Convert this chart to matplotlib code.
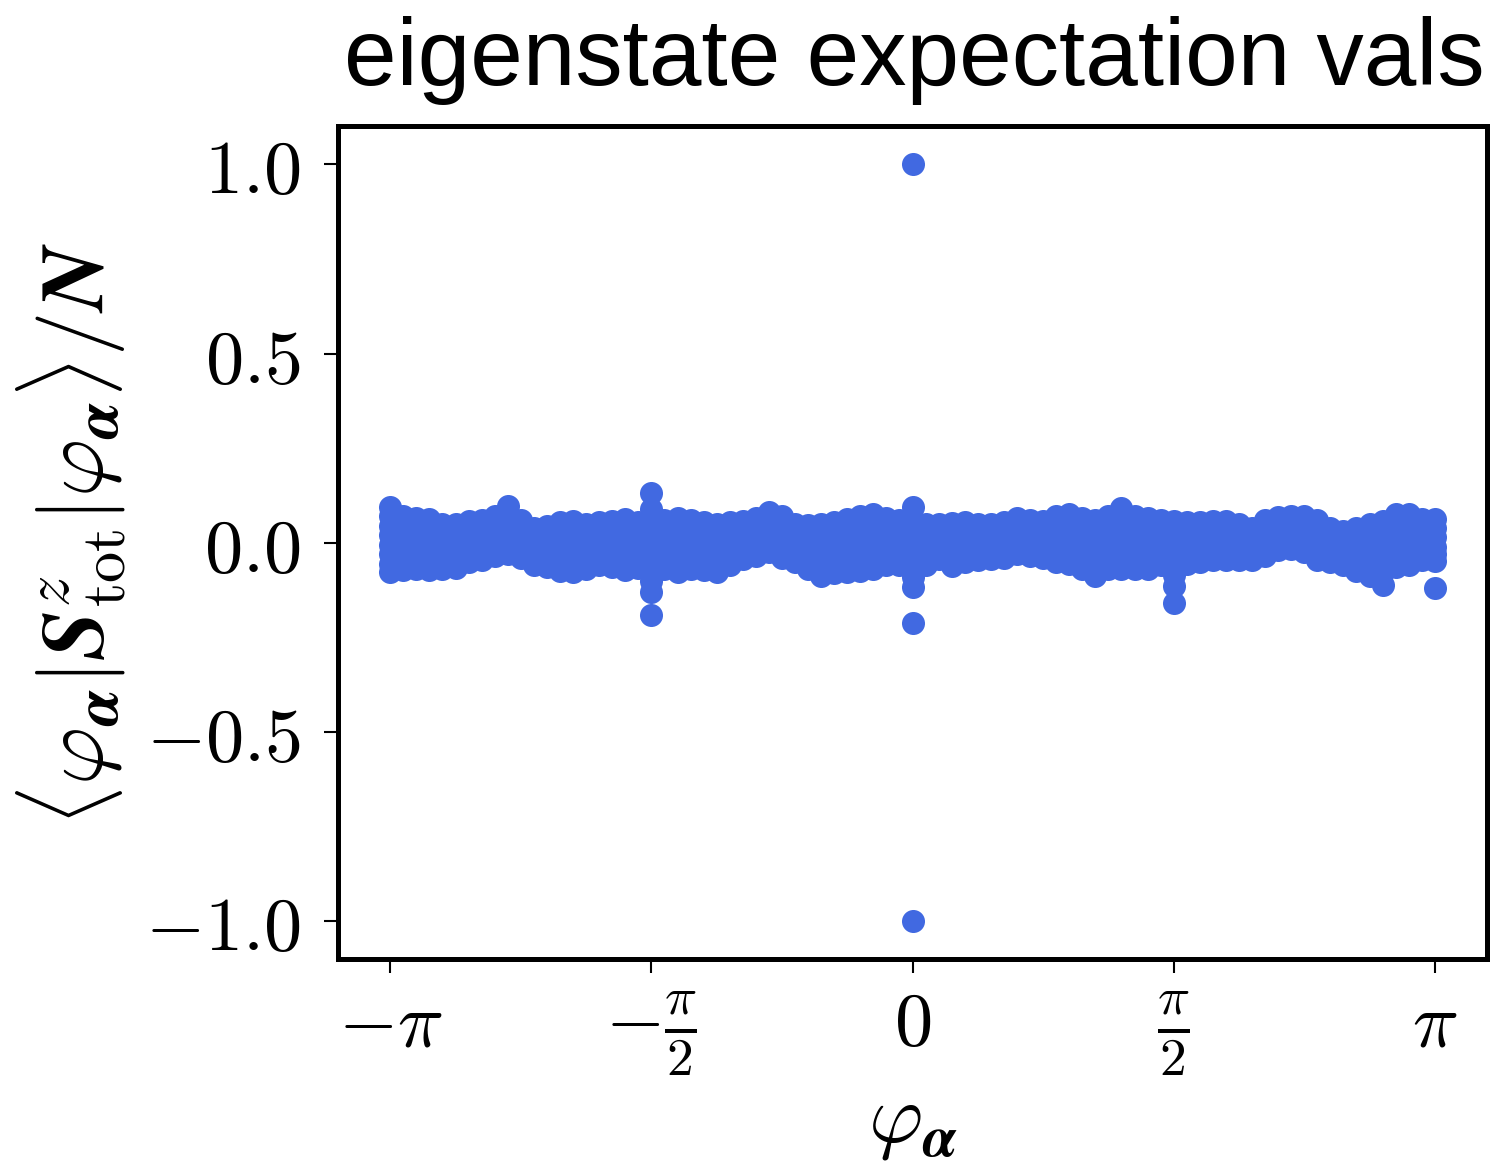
import numpy as np
import matplotlib
matplotlib.use("Agg")
import matplotlib.pyplot as plt
from matplotlib.mathtext import MathTextParser

plt.rcParams["mathtext.fontset"] = "cm"
plt.rcParams["font.family"] = ["DejaVu Serif"]

# Eigenphases (in units of pi) and the per-column expectation values <S^z_tot>/N
band_phi = [
    -1.000, -0.975, -0.950, -0.925, -0.900, -0.875, -0.850, -0.825, -0.800, -0.775,
    -0.750, -0.725, -0.700, -0.675, -0.650, -0.625, -0.600, -0.575, -0.550, -0.525,
    -0.500, -0.475, -0.450, -0.425, -0.400, -0.375, -0.350, -0.325, -0.300, -0.275,
    -0.250, -0.225, -0.200, -0.175, -0.150, -0.125, -0.100, -0.075, -0.050, -0.025,
    0.000, 0.025, 0.050, 0.075, 0.100, 0.125, 0.150, 0.175, 0.200, 0.225,
    0.250, 0.275, 0.300, 0.325, 0.350, 0.375, 0.400, 0.425, 0.450, 0.475,
    0.500, 0.525, 0.550, 0.575, 0.600, 0.625, 0.650, 0.675, 0.700, 0.725,
    0.750, 0.775, 0.800, 0.825, 0.850, 0.875, 0.900, 0.925, 0.950, 0.975,
    1.000,
]

band_vals = [
    [0.095, 0.070, 0.045, 0.020, -0.005, -0.030, -0.055, -0.077],
    [0.070, 0.030, -0.010, -0.045, -0.072],
    [0.066, 0.028, -0.012, -0.042, -0.069],
    [0.062, 0.025, -0.015, -0.048, -0.072],
    [0.050, 0.012, -0.025, -0.069],
    [0.050, 0.015, -0.022, -0.066],
    [0.058, 0.018, -0.018, -0.050],
    [0.060, 0.022, -0.012, -0.045],
    [0.070, 0.032, -0.005, -0.035],
    [0.098, 0.060, 0.022, -0.010, -0.030],
    [0.060, 0.022, -0.012, -0.040],
    [0.040, 0.005, -0.028, -0.060],
    [0.045, 0.008, -0.030, -0.065],
    [0.055, 0.018, -0.020, -0.050, -0.075],
    [0.058, 0.020, -0.018, -0.050, -0.077],
    [0.050, 0.012, -0.025, -0.070],
    [0.055, 0.015, -0.022, -0.060],
    [0.058, 0.020, -0.020, -0.065],
    [0.062, 0.024, -0.015, -0.045, -0.072],
    [0.055, 0.016, -0.022, -0.066],
    [0.132, 0.090, 0.050, 0.010, -0.030, -0.065, -0.100, -0.130, -0.190],
    [0.060, 0.020, -0.020, -0.050, -0.070],
    [0.066, 0.028, -0.012, -0.045, -0.077],
    [0.060, 0.022, -0.018, -0.048, -0.070],
    [0.055, 0.018, -0.020, -0.050, -0.072],
    [0.050, 0.012, -0.025, -0.055, -0.077],
    [0.055, 0.018, -0.020, -0.060],
    [0.058, 0.020, -0.012, -0.042],
    [0.065, 0.028, -0.005, -0.035],
    [0.080, 0.042, 0.008, -0.025],
    [0.070, 0.032, -0.005, -0.040],
    [0.050, 0.012, -0.020, -0.050],
    [0.048, 0.010, -0.028, -0.070],
    [0.050, 0.012, -0.025, -0.058, -0.087],
    [0.055, 0.018, -0.020, -0.052, -0.080],
    [0.063, 0.025, -0.015, -0.048, -0.077],
    [0.070, 0.032, -0.008, -0.042, -0.075],
    [0.077, 0.038, 0.000, -0.035, -0.070],
    [0.065, 0.025, -0.015, -0.060],
    [0.060, 0.020, -0.020, -0.060],
    [1.000, 0.095, 0.055, 0.015, -0.025, -0.060, -0.090, -0.116, -0.212, -1.000],
    [0.050, 0.010, -0.025, -0.060],
    [0.050, 0.012, -0.015, -0.042],
    [0.052, 0.015, -0.022, -0.062],
    [0.055, 0.018, -0.015, -0.050],
    [0.050, 0.012, -0.018, -0.045],
    [0.050, 0.012, -0.015, -0.042],
    [0.055, 0.018, -0.012, -0.040],
    [0.066, 0.028, -0.002, -0.030],
    [0.060, 0.022, -0.008, -0.035],
    [0.058, 0.020, -0.010, -0.040],
    [0.070, 0.030, -0.010, -0.050],
    [0.075, 0.035, -0.005, -0.030, -0.055],
    [0.066, 0.028, -0.010, -0.045, -0.070],
    [0.060, 0.022, -0.015, -0.050, -0.087],
    [0.070, 0.030, -0.010, -0.042, -0.070],
    [0.092, 0.055, 0.018, -0.020, -0.050, -0.069],
    [0.070, 0.030, -0.010, -0.042, -0.070],
    [0.066, 0.028, -0.010, -0.045, -0.070],
    [0.060, 0.020, -0.020, -0.060],
    [0.058, 0.020, -0.018, -0.055, -0.085, -0.115, -0.160],
    [0.055, 0.016, -0.020, -0.055],
    [0.055, 0.016, -0.018, -0.050],
    [0.058, 0.020, -0.012, -0.045],
    [0.058, 0.020, -0.012, -0.045],
    [0.050, 0.012, -0.018, -0.045],
    [0.040, 0.005, -0.020, -0.045],
    [0.060, 0.022, -0.008, -0.035],
    [0.068, 0.030, 0.005, -0.020],
    [0.070, 0.032, 0.008, -0.016],
    [0.070, 0.030, 0.002, -0.024],
    [0.060, 0.022, -0.012, -0.045],
    [0.040, 0.005, -0.025, -0.050],
    [0.030, -0.005, -0.035, -0.060],
    [0.040, 0.005, -0.030, -0.075],
    [0.050, 0.012, -0.025, -0.058, -0.087],
    [0.058, 0.020, -0.018, -0.050, -0.078, -0.112],
    [0.077, 0.038, 0.000, -0.035, -0.065],
    [0.075, 0.035, -0.002, -0.035, -0.060],
    [0.063, 0.025, -0.012, -0.045],
    [0.063, 0.040, 0.015, -0.010, -0.030, -0.047, -0.120],
]

y_ticks = [-1.0, -0.5, 0.0, 0.5, 1.0]
y_ticklabels = [r"$-1.0$", r"$-0.5$", r"$0.0$", r"$0.5$", r"$1.0$"]
x_ticks_pi = [-1.0, -0.5, 0.0, 0.5, 1.0]
x_ticklabels = [r"$-\pi$", r"$-\frac{\pi}{2}$", r"$0$", r"$\frac{\pi}{2}$", r"$\pi$"]

title_text = "eigenstate expectation vals"


def mathtext_ok(s):
    try:
        MathTextParser("path").parse(s)
        return True
    except Exception:
        return False


if mathtext_ok(r"$\boldsymbol{S}$"):
    ylabel = (r"$\langle\boldsymbol{\varphi}_{\boldsymbol{\alpha}}|\boldsymbol{S}^{z}_{\rm tot}"
              r"|\boldsymbol{\varphi}_{\boldsymbol{\alpha}}\rangle/\boldsymbol{N}$")
    xlabel = r"$\boldsymbol{\varphi}_{\boldsymbol{\alpha}}$"
else:
    ylabel = r"$\langle\varphi_\alpha|\mathbf{S}^{z}_{\rm tot}|\varphi_\alpha\rangle/\mathbf{N}$"
    xlabel = r"$\varphi_\alpha$"

# flatten the columns into scatter coordinates
phi = np.concatenate([np.full(len(v), p) for p, v in zip(band_phi, band_vals)]) * np.pi
vals = np.concatenate([np.asarray(v, dtype=float) for v in band_vals])

fig = plt.figure(figsize=(15.01, 11.72), dpi=100)
ax = fig.add_axes([0.2252, 0.1817, 0.9907 - 0.2252, 0.8921 - 0.1817])

ax.scatter(phi, vals, s=275, color="#4169E1", linewidths=0, zorder=3)

ax.set_xlim(-1.1 * np.pi, 1.1 * np.pi)
ax.set_ylim(-1.1, 1.1)

ax.set_yticks(y_ticks)
ax.set_yticklabels(y_ticklabels)
ax.set_xticks(np.array(x_ticks_pi) * np.pi)
ax.set_xticklabels(x_ticklabels)

for sp in ax.spines.values():
    sp.set_linewidth(3.6)

ax.tick_params(axis="both", which="major", length=10, width=1.5, labelsize=55, direction="out")
ax.tick_params(axis="y", pad=17)
ax.tick_params(axis="x", pad=52)
for lab in ax.get_xticklabels():
    lab.set_verticalalignment("baseline")

ax.set_ylabel(ylabel, fontsize=64)
ax.yaxis.set_label_coords(-0.182, 0.51)
ax.set_xlabel(xlabel, fontsize=60)
ax.xaxis.set_label_coords(0.5, -0.148)

fig.text(0.9893, 0.9275, title_text, ha="right", va="baseline",
         fontsize=68, family=["Liberation Sans", "DejaVu Sans"])

fig.savefig("out.png", dpi=100)
